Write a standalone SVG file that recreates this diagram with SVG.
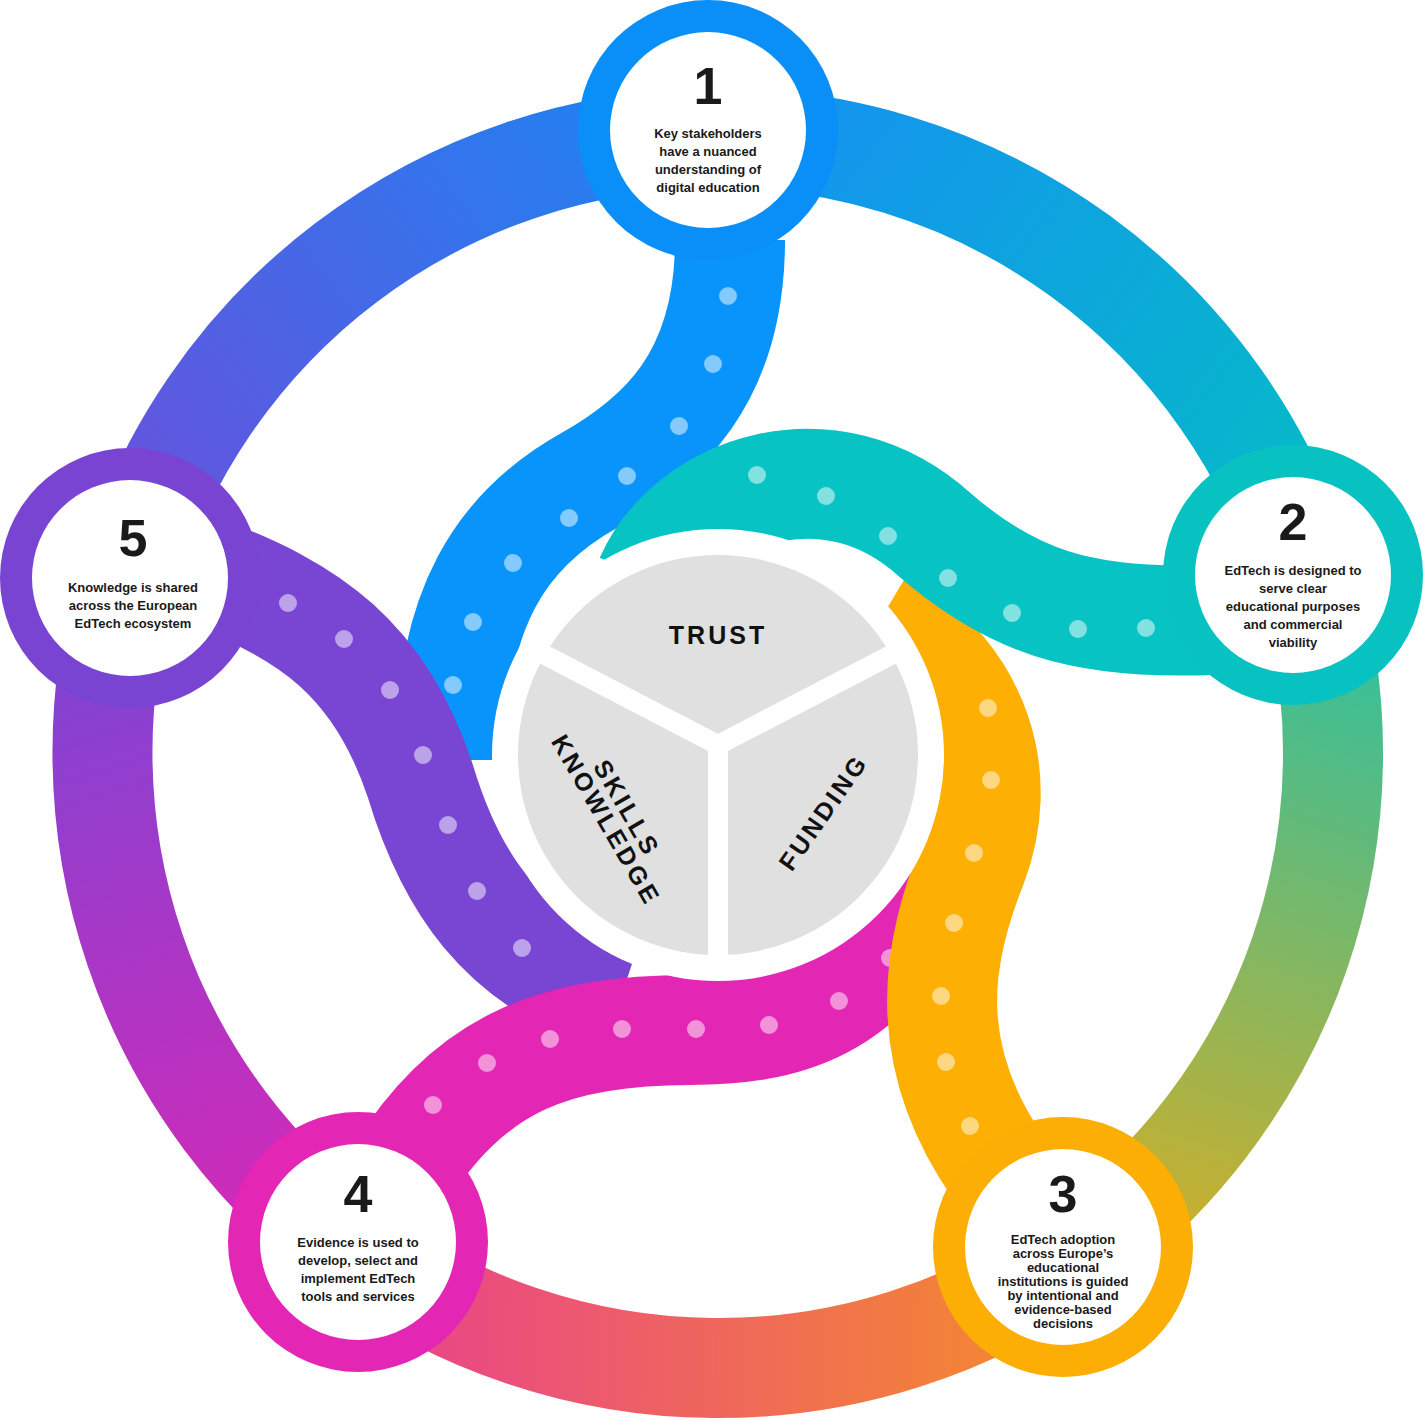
<svg xmlns="http://www.w3.org/2000/svg" width="1427" height="1420" viewBox="0 0 1427 1420">
<defs>
<linearGradient id="g12" gradientUnits="userSpaceOnUse" x1="707" y1="138" x2="1306" y2="573"><stop offset="0" stop-color="#1590f2"/><stop offset="1" stop-color="#05bcc6"/></linearGradient>
<linearGradient id="g23" gradientUnits="userSpaceOnUse" x1="1306" y1="600" x2="1100" y2="1250"><stop offset="0" stop-color="#2fc0a0"/><stop offset="1" stop-color="#d4ae26"/></linearGradient>
<linearGradient id="g34" gradientUnits="userSpaceOnUse" x1="1071" y1="1257" x2="356" y2="1250"><stop offset="0" stop-color="#f58d2a"/><stop offset="1" stop-color="#e8408f"/></linearGradient>
<linearGradient id="g45" gradientUnits="userSpaceOnUse" x1="300" y1="1220" x2="110" y2="620"><stop offset="0" stop-color="#d22ab8"/><stop offset="1" stop-color="#7e44d4"/></linearGradient>
<linearGradient id="g51" gradientUnits="userSpaceOnUse" x1="128" y1="577" x2="707" y2="138"><stop offset="0" stop-color="#6a50dc"/><stop offset="1" stop-color="#1c84f2"/></linearGradient>
<clipPath id="petals"><rect x="500" y="553" width="440" height="420"/></clipPath>
</defs>
<style>
.ring{fill:none;stroke-width:100}
.snake{fill:none;stroke-width:110}
.dot{fill:#fff;fill-opacity:.5}
.num{font-family:"Liberation Sans",Arial,sans-serif;font-weight:bold;font-size:52px;fill:#1a1a1a;text-anchor:middle}
.txt{font-family:"Liberation Sans",Arial,sans-serif;font-weight:bold;font-size:13px;fill:#1a1a1a;text-anchor:middle}
.ctr{font-family:"Liberation Sans",Arial,sans-serif;font-weight:bold;font-size:25px;fill:#111;text-anchor:middle;letter-spacing:3px}
</style>
<g id="ring">
<path class="ring" stroke="url(#g12)" d="M707,138 A615,615 0 0 1 1306,573"/>
<path class="ring" stroke="url(#g23)" d="M1306,573 A615,615 0 0 1 1071,1257"/>
<path class="ring" stroke="url(#g34)" d="M1071,1257 A615,615 0 0 1 356,1250"/>
<path class="ring" stroke="url(#g45)" d="M356,1250 A615,615 0 0 1 128,577"/>
<path class="ring" stroke="url(#g51)" d="M128,577 A615,615 0 0 1 707,138"/>
</g>
<g id="connectors">
<g id="snake-blue">
<path class="snake" stroke="#0994fb" d="M730,240 C730,380 660,440 590,480 C500,530 450,610 450,760"/>
<circle class="dot" cx="728" cy="296" r="9"/><circle class="dot" cx="713" cy="364" r="9"/><circle class="dot" cx="679" cy="426" r="9"/><circle class="dot" cx="627" cy="476" r="9"/><circle class="dot" cx="569" cy="518" r="9"/><circle class="dot" cx="513" cy="563" r="9"/><circle class="dot" cx="473" cy="622" r="9"/><circle class="dot" cx="453" cy="685" r="9"/>
</g>
<g id="snake-purple">
<path class="snake" stroke="#7945d3" d="M200,570 C310,610 380,660 420,780 C450,880 500,960 620,1000"/>
<circle class="dot" cx="288" cy="603" r="9"/><circle class="dot" cx="344" cy="639" r="9"/><circle class="dot" cx="390" cy="690" r="9"/><circle class="dot" cx="423" cy="755" r="9"/><circle class="dot" cx="448" cy="825" r="9"/><circle class="dot" cx="477" cy="891" r="9"/><circle class="dot" cx="522" cy="948" r="9"/>
</g>
<g id="snake-magenta">
<path class="snake" stroke="#e426b4" d="M400,1175 C470,1060 560,1030 690,1030 C800,1030 870,1000 930,880"/>
<circle class="dot" cx="433" cy="1105" r="9"/><circle class="dot" cx="487" cy="1063" r="9"/><circle class="dot" cx="550" cy="1039" r="9"/><circle class="dot" cx="622" cy="1029" r="9"/><circle class="dot" cx="696" cy="1029" r="9"/><circle class="dot" cx="769" cy="1025" r="9"/><circle class="dot" cx="839" cy="1001" r="9"/><circle class="dot" cx="890" cy="958" r="9"/>
</g>
<g id="snake-orange">
<path class="snake" stroke="#fdaf03" d="M880,620 C980,680 1005,780 972,865 C940,945 915,1050 1000,1170"/>
<circle class="dot" cx="988" cy="708" r="9"/><circle class="dot" cx="991" cy="780" r="9"/><circle class="dot" cx="974" cy="853" r="9"/><circle class="dot" cx="954" cy="923" r="9"/><circle class="dot" cx="941" cy="996" r="9"/><circle class="dot" cx="946" cy="1062" r="9"/><circle class="dot" cx="970" cy="1126" r="9"/>
</g>
<g id="snake-teal">
<path class="snake" stroke="#07c3c3" d="M650,580 C690,490 830,440 935,535 C1010,600 1080,625 1210,620"/>
<circle class="dot" cx="757" cy="475" r="9"/><circle class="dot" cx="826" cy="496" r="9"/><circle class="dot" cx="888" cy="536" r="9"/><circle class="dot" cx="948" cy="578" r="9"/><circle class="dot" cx="1012" cy="613" r="9"/><circle class="dot" cx="1078" cy="629" r="9"/><circle class="dot" cx="1146" cy="628" r="9"/>
</g>
</g>
<g id="center">
<circle cx="718" cy="755" r="226" fill="#fff"/>
<circle cx="718" cy="755" r="200" fill="#e0e0e0" clip-path="url(#petals)"/>
<g stroke="#fff" stroke-width="20" stroke-linecap="round">
<line x1="718" y1="745" x2="718" y2="970"/>
<line x1="718" y1="745" x2="545" y2="655"/>
<line x1="718" y1="745" x2="891" y2="655"/>
</g>
<text class="ctr" x="718" y="644">TRUST</text>
<text class="ctr" transform="translate(823,812) rotate(-55)" x="0" y="9">FUNDING</text>
<g transform="translate(615,815) rotate(60)">
<text class="ctr" x="0" y="-5">SKILLS</text>
<text class="ctr" x="0" y="19">KNOWLEDGE</text>
</g>
</g>
<g id="node1">
<circle cx="708" cy="130" r="130" fill="#0a8ff8"/><circle cx="708" cy="130" r="98" fill="#fff"/>
<text class="num" x="708" y="104">1</text>
<text class="txt"><tspan x="708" y="138">Key stakeholders</tspan><tspan x="708" y="156">have a nuanced</tspan><tspan x="708" y="174">understanding of</tspan><tspan x="708" y="192">digital education</tspan></text>
</g>
<g id="node2">
<circle cx="1293" cy="575" r="130" fill="#08c2c2"/><circle cx="1293" cy="575" r="98" fill="#fff"/>
<text class="num" x="1293" y="540">2</text>
<text class="txt"><tspan x="1293" y="575">EdTech is designed to</tspan><tspan x="1293" y="593">serve clear</tspan><tspan x="1293" y="611">educational purposes</tspan><tspan x="1293" y="629">and commercial</tspan><tspan x="1293" y="647">viability</tspan></text>
</g>
<g id="node3">
<circle cx="1063" cy="1247" r="130" fill="#fdae04"/><circle cx="1063" cy="1247" r="98" fill="#fff"/>
<text class="num" x="1063" y="1212">3</text>
<text class="txt"><tspan x="1063" y="1244">EdTech adoption</tspan><tspan x="1063" y="1258">across Europe’s</tspan><tspan x="1063" y="1272">educational</tspan><tspan x="1063" y="1286">institutions is guided</tspan><tspan x="1063" y="1300">by intentional and</tspan><tspan x="1063" y="1314">evidence-based</tspan><tspan x="1063" y="1328">decisions</tspan></text>
</g>
<g id="node4">
<circle cx="358" cy="1242" r="130" fill="#e326b4"/><circle cx="358" cy="1242" r="98" fill="#fff"/>
<text class="num" x="358" y="1212">4</text>
<text class="txt"><tspan x="358" y="1247">Evidence is used to</tspan><tspan x="358" y="1265">develop, select and</tspan><tspan x="358" y="1283">implement EdTech</tspan><tspan x="358" y="1301">tools and services</tspan></text>
</g>
<g id="node5">
<circle cx="130" cy="578" r="130" fill="#7a44d2"/><circle cx="130" cy="578" r="98" fill="#fff"/>
<text class="num" x="133" y="556">5</text>
<text class="txt"><tspan x="133" y="592">Knowledge is shared</tspan><tspan x="133" y="610">across the European</tspan><tspan x="133" y="628">EdTech ecosystem</tspan></text>
</g>
</svg>
